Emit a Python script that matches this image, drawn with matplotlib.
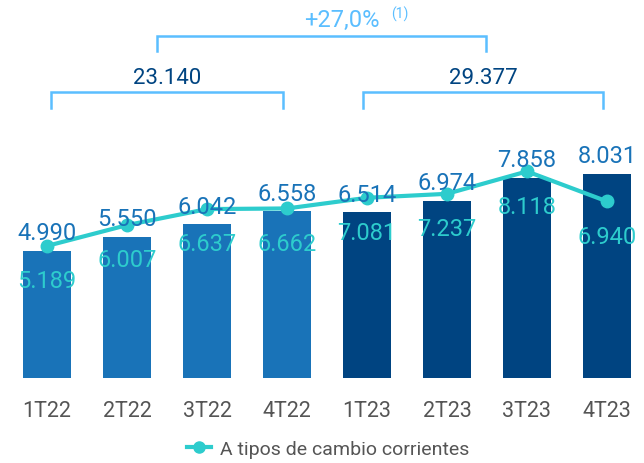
import matplotlib
matplotlib.use("Agg")
import matplotlib.pyplot as plt
from matplotlib.lines import Line2D

plt.rcParams['font.family'] = ['Roboto', 'DejaVu Sans']

trimestres = ["1T22", "2T22", "3T22", "4T22", "1T23", "2T23", "3T23", "4T23"]
barras = [4990, 5550, 6042, 6558, 6514, 6974, 7858, 8031]
corrientes = [5189, 6007, 6637, 6662, 7081, 7237, 8118, 6940]
grupos = [(0, 4), (4, 8)]

AZUL = "#1973b8"
MARINO = "#004481"
AQUA = "#2dcccd"
CLARO = "#5bbeff"
GRIS = "#555555"

def fmt(v):
    return "{:,}".format(v).replace(",", ".")

fig = plt.figure(figsize=(6.44, 4.64), dpi=100)
ax = fig.add_axes([0, 85 / 464, 1, 379 / 464])
ppu = 25.45 / 1000  # pixels por unidad
ax.set_xlim(-0.5875, 7.4625)
ax.set_ylim(0, 379 / ppu)

x = list(range(len(trimestres)))
colores = [AZUL] * 4 + [MARINO] * 4
ax.bar(x, barras, width=0.6, color=colores, zorder=1)
ax.plot(x, corrientes, color=AQUA, lw=3, marker="o", ms=9, zorder=2)

for i in x:
    ax.annotate(fmt(barras[i]), (i, barras[i]), xytext=(0, 13), textcoords="offset points",
                ha="center", va="center", fontsize=17, color=AZUL, zorder=3)
    ax.annotate(fmt(corrientes[i]), (i, corrientes[i]), xytext=(0, -25), textcoords="offset points",
                ha="center", va="center", fontsize=17, color=AQUA, zorder=3)

def py(p):
    # pixel desde arriba -> unidades de datos
    return (379 - p) / ppu

# llaves de totales
extremos = [(0.05, 2.95), (3.95, 6.95)]
totales = []
for (a, b), (x0, x1) in zip(grupos, extremos):
    tot = sum(barras[a:b])
    totales.append(tot)
    ax.plot([x0, x0, x1, x1], [py(109), py(93), py(93), py(109)], color=CLARO, lw=1.8,
            clip_on=False, solid_joinstyle="miter")
    ax.text((x0 + x1) / 2, py(78), fmt(tot), ha="center", va="center", fontsize=16,
            color=MARINO)

t0, t1 = 1.375, 5.49
ax.plot([t0, t0, t1, t1], [py(52), py(37), py(37), py(52)], color=CLARO, lw=1.8,
        clip_on=False, solid_joinstyle="miter")
crec = (totales[1] / totales[0] - 1) * 100
ax.text(3.69, py(20), "+{:.1f}%".format(crec).replace(".", ","), ha="center",
        va="center", fontsize=17, color=CLARO)
ax.text(4.41, py(14), "(1)", ha="center", va="center", fontsize=10, color=CLARO)

ax.set_xticks(x)
ax.set_xticklabels(trimestres, fontsize=15.5, color=GRIS)
ax.tick_params(axis="x", length=0, pad=16)
ax.set_yticks([])
for s in ax.spines.values():
    s.set_visible(False)

h = Line2D([], [], color=AQUA, lw=3, marker="o", ms=8)
fig.legend([h], ["A tipos de cambio corrientes"], loc="center", bbox_to_anchor=(0.51, 14 / 464),
           frameon=False, fontsize=14, labelcolor=GRIS, handlelength=1.2, handletextpad=0.5)

fig.savefig("out.png", dpi=100)
